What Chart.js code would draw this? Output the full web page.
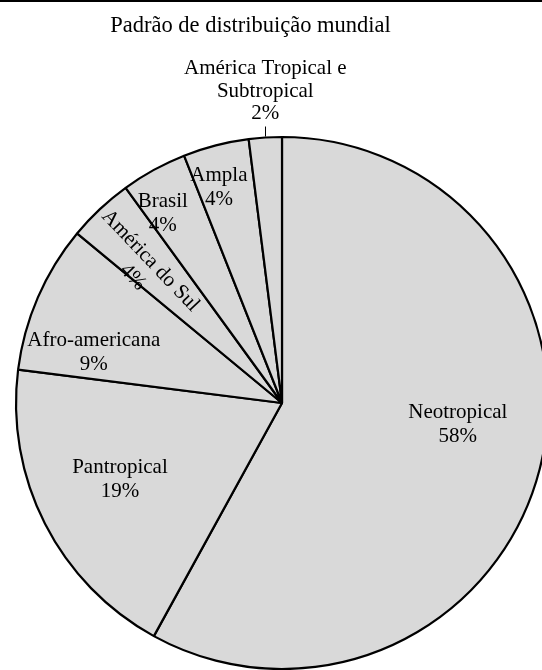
<!DOCTYPE html>
<html>
<head>
<meta charset="utf-8">
<script src="https://cdn.jsdelivr.net/npm/chart.js@4.4.1/dist/chart.umd.min.js"></script>
<style>
  html, body { margin: 0; padding: 0; background: #fff; overflow: hidden; }
  #wrap { position: relative; width: 542px; height: 670px; }
  #rule { position: absolute; left: 0; top: 0; width: 542px; height: 2px; background: #000; z-index: 2; }
  canvas { display: block; }
</style>
</head>
<body>
<div id="wrap">
  <div id="rule"></div>
  <canvas id="chart" width="542" height="670"></canvas>
</div>
<script>
// Distribution pattern of the species (share of the total, %)
const categories = [
  ['Neotropical'],
  ['Pantropical'],
  ['Afro-americana'],
  ['América do Sul'],
  ['Brasil'],
  ['Ampla'],
  ['América Tropical e', 'Subtropical']
];
const shares = [58, 19, 9, 4, 4, 4, 2];
const chartTitle = 'Padrão de distribuição mundial';

const SERIF = "'Liberation Serif', 'Times New Roman', serif";

// Where each label sits: shift from the slice mid-angle (deg), radius fraction, text rotation (deg)
const labelPlacement = [
  { dAng: -8.2, frac: 0.665 },
  { dAng: 2.4, frac: 0.67 },
  { dAng: -7.7, frac: 0.735 },
  { dAng: -2.7, frac: 0.735, rot: 46.5 },
  { dAng: -3.1, frac: 0.848 },
  { dAng: -1.8, frac: 0.85 },
  { outside: true }
];

// Title centred over the whole figure, drawn above the plot area
const figureTitle = {
  id: 'figureTitle',
  afterDraw(chart) {
    const { ctx } = chart;
    ctx.save();
    ctx.fillStyle = '#000';
    ctx.font = '22.5px ' + SERIF;
    ctx.textAlign = 'center';
    ctx.textBaseline = 'alphabetic';
    ctx.fillText(chartTitle, 250.5, 32);
    ctx.restore();
  }
};

const sliceLabels = {
  id: 'sliceLabels',
  afterDatasetsDraw(chart) {
    const { ctx } = chart;
    const meta = chart.getDatasetMeta(0);
    const total = shares.reduce((a, b) => a + b, 0);
    const lineH = 24;
    ctx.save();
    ctx.fillStyle = '#000';
    ctx.font = '21px ' + SERIF;
    ctx.textAlign = 'center';
    ctx.textBaseline = 'middle';
    meta.data.forEach((arc, i) => {
      const p = arc.getProps(['x', 'y', 'startAngle', 'endAngle', 'outerRadius'], true);
      const lines = categories[i].concat([Math.round(shares[i] / total * 100) + '%']);
      const place = labelPlacement[i];
      const mid = (p.startAngle + p.endAngle) / 2;
      if (place.outside) {
        // label above the rim with a short leader
        const ex = p.x + p.outerRadius * Math.cos(mid);
        const ey = p.y + p.outerRadius * Math.sin(mid);
        ctx.strokeStyle = '#000';
        ctx.lineWidth = 1;
        ctx.beginPath();
        ctx.moveTo(Math.round(ex) + 0.5, ey - 1);
        ctx.lineTo(Math.round(ex) + 0.5, ey - 11);
        ctx.stroke();
        const baseY = ey - 24;
        lines.forEach((t, k) => {
          ctx.fillText(t, ex, baseY - (lines.length - 1 - k) * 22.5);
        });
        return;
      }
      const ang = mid + place.dAng * Math.PI / 180;
      const r = p.outerRadius * place.frac;
      const cx = p.x + r * Math.cos(ang);
      const cy = p.y + r * Math.sin(ang);
      ctx.save();
      ctx.translate(cx, cy + 2);
      if (place.rot) ctx.rotate(place.rot * Math.PI / 180);
      lines.forEach((t, k) => {
        ctx.fillText(t, 0, (k - (lines.length - 1) / 2) * lineH);
      });
      ctx.restore();
    });
    ctx.restore();
  }
};

new Chart(document.getElementById('chart'), {
  type: 'pie',
  data: {
    labels: categories.map(c => c.join(' ')),
    datasets: [{
      data: shares,
      backgroundColor: '#d9d9d9',
      borderColor: '#000',
      borderWidth: 2.2,
      clip: false,
      radius: 266
    }]
  },
  options: {
    responsive: false,
    animation: false,
    layout: { padding: { left: 22, right: 0, top: 136, bottom: 0 } },
    plugins: {
      legend: { display: false },
      tooltip: { enabled: false },
      title: { display: false }
    }
  },
  plugins: [sliceLabels, figureTitle]
});
</script>
</body>
</html>
